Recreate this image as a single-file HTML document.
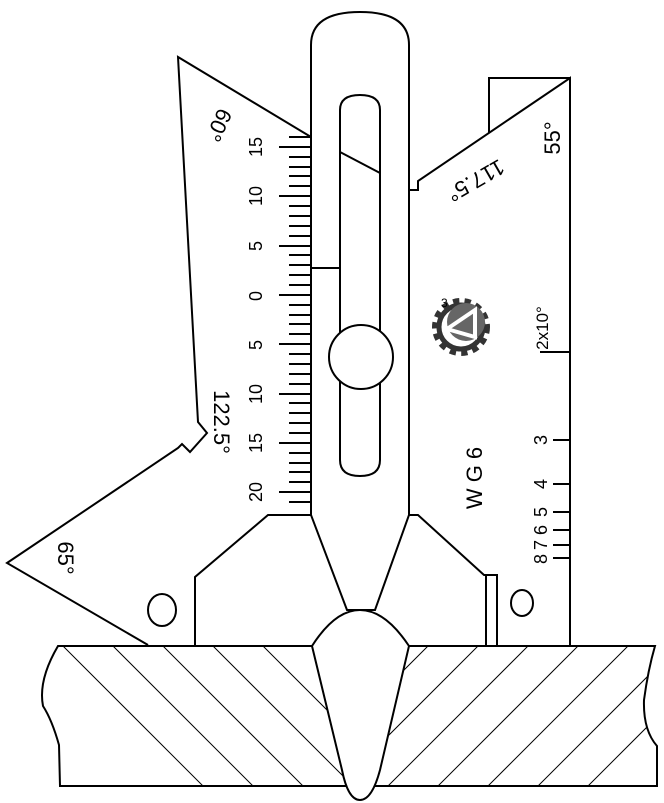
<!DOCTYPE html>
<html><head><meta charset="utf-8"><style>
html,body{margin:0;padding:0;background:#fff;overflow:hidden;}
svg{display:block;}
text{font-family:"Liberation Sans",sans-serif;fill:#000;}
</style></head><body>
<svg width="664" height="803" viewBox="0 0 664 803" xmlns="http://www.w3.org/2000/svg">
<defs>
<clipPath id="pl"><path d="M58,646 L655,646 Q648,670 644,700 Q643,730 657,746 L657,786 L60,786 L59,745 Q52,720 43,706 Q38,680 58,646 Z"/></clipPath>
<clipPath id="lh"><rect x="0" y="640" width="360" height="160"/></clipPath>
<clipPath id="rh"><rect x="360" y="640" width="310" height="160"/></clipPath>
</defs>
<g fill="none" stroke="#000" stroke-width="2">
<path d="M311,137 L178,57 L198,422 L207,433 L190,452 L182,444 L178,448 L7,563 L148,645"/>
<path d="M311,515 L268,515 L195,577 L195,645"/>
<path d="M409,190 L418,190 L418,181 L570,78 L570,645"/>
<path d="M489,133 L489,78 L570,78"/>
<path d="M409,515 L418,515 L484,575 L497,575 L497,645 M486,575 L486,645"/>
<path d="M311,515 L311,45 Q311,12 360,12 Q409,12 409,45 L409,515 L375,610 L347,610 Z"/>
<path d="M340,110 Q340,95 360,95 Q380,95 380,110 L380,460 Q380,476 360,476 Q340,476 340,460 Z"/>
<path d="M340,152 L380,173 M311,268 L340,268"/>
<circle cx="361" cy="357" r="32" fill="#fff"/>
<ellipse cx="162" cy="610" rx="14" ry="16"/>
<ellipse cx="522" cy="603" rx="11" ry="13"/>
<path d="M58,646 L655,646 Q648,670 644,700 Q643,730 657,746 L657,786 L60,786 L59,745 Q52,720 43,706 Q38,680 58,646 Z" fill="#fff"/>
</g>
<g clip-path="url(#pl)"><g clip-path="url(#lh)" stroke="#000" stroke-width="1">
<path d="M-37,546 L263,846 M13,546 L313,846 M63,646 L263,846 M113,646 L313,846 M163,646 L363,846 M213,646 L413,846 M263,646 L463,846"/>
</g></g>
<g clip-path="url(#pl)"><g clip-path="url(#rh)" stroke="#000" stroke-width="1">
<path d="M428,646 L228,846 M478,646 L278,846 M528,646 L328,846 M578,646 L378,846 M628,646 L428,846 M678,646 L478,846 M728,646 L528,846"/>
</g></g>
<path d="M312,646 Q335,610 360,610 Q385,610 409,646 L380,770 Q372,800 360,800 Q348,800 342,770 Z" fill="#fff" stroke="#000" stroke-width="2"/>
<path d="M58,646 L312,646 M409,646 L655,646" stroke="#000" stroke-width="2"/>
<path stroke="#000" stroke-width="2" d="M289,137H311M279,147H311M289,157H311M289,167H311M289,176H311M289,186H311M279,196H311M289,206H311M289,216H311M289,226H311M289,236H311M279,246H311M289,255H311M289,265H311M289,275H311M289,285H311M279,295H311M289,305H311M289,315H311M289,324H311M289,334H311M279,344H311M289,354H311M289,364H311M289,374H311M289,384H311M279,394H311M289,403H311M289,413H311M289,423H311M289,433H311M279,443H311M289,453H311M289,463H311M289,472H311M289,482H311M279,492H311M289,502H311M540,352H570M553,440H570M553,484H570M553,512H570M553,530H570M553,545H570M553,558H570"/>
<g font-size="18">
<text transform="translate(262,147) rotate(-90)" text-anchor="middle">15</text>
<text transform="translate(262,196) rotate(-90)" text-anchor="middle">10</text>
<text transform="translate(262,246) rotate(-90)" text-anchor="middle">5</text>
<text transform="translate(262,296) rotate(-90)" text-anchor="middle">0</text>
<text transform="translate(262,345) rotate(-90)" text-anchor="middle">5</text>
<text transform="translate(262,394) rotate(-90)" text-anchor="middle">10</text>
<text transform="translate(262,443) rotate(-90)" text-anchor="middle">15</text>
<text transform="translate(262,492) rotate(-90)" text-anchor="middle">20</text>
<text transform="translate(547,440) rotate(-90)" text-anchor="middle">3</text>
<text transform="translate(547,484) rotate(-90)" text-anchor="middle">4</text>
<text transform="translate(547,512) rotate(-90)" text-anchor="middle">5</text>
<text transform="translate(547,530) rotate(-90)" text-anchor="middle">6</text>
<text transform="translate(547,545) rotate(-90)" text-anchor="middle">7</text>
<text transform="translate(547,559) rotate(-90)" text-anchor="middle">8</text>
<text transform="translate(548,328) rotate(-90)" text-anchor="middle" font-size="17">2x10°</text>
</g>
<g font-size="22">
<text transform="translate(560,138) rotate(-90)" text-anchor="middle">55°</text>
<text transform="translate(212,122) rotate(115)" text-anchor="middle">60°</text>
<text transform="translate(214,422) rotate(90)" text-anchor="middle">122.5°</text>
<text transform="translate(58,558) rotate(90)" text-anchor="middle">65°</text>
<text transform="translate(472,174) rotate(150)" text-anchor="middle">117.5°</text>
<text transform="translate(482,478) rotate(-90)" text-anchor="middle">W G 6</text>
</g>
<g transform="translate(461,327)">
<circle r="25" fill="none" stroke="#333" stroke-width="8" stroke-dasharray="6 5"/>
<circle r="22" fill="none" stroke="#333" stroke-width="5"/>
<circle cx="5" cy="-5" r="19" fill="#666"/>
<path d="M-14,2 L14,-17 L14,10 Z" fill="none" stroke="#fff" stroke-width="4"/>
<text x="-20" y="-20" font-size="12">3</text>
</g>
</svg>
</body></html>
